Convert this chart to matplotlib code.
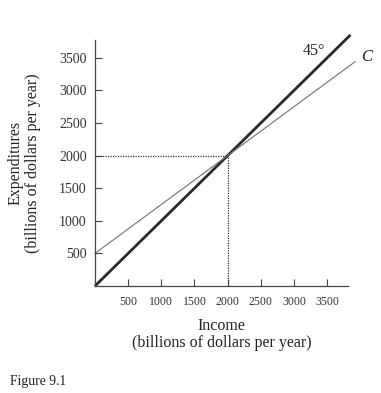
import matplotlib
matplotlib.use("Agg")
import matplotlib.pyplot as plt

# ---------------------------------------------------------------------------
# Data
# ---------------------------------------------------------------------------
x_ticks = [500, 1000, 1500, 2000, 2500, 3000, 3500]
y_ticks = [500, 1000, 1500, 2000, 2500, 3000, 3500]

diag_x = [0, 3850]          # 45-degree line, E = Y
diag_y = [0, 3850]
cons_x = [0, 3920]          # consumption function C = 500 + 0.75 Y
cons_y = [500, 3440]
eq_income = 2000
eq_spend = 2000

plt.rcParams["font.family"] = ["Liberation Serif", "DejaVu Serif"]

fig = plt.figure(figsize=(3.81, 3.93), dpi=100)
ax = fig.add_axes([0.249, 0.272, 0.664, 0.626])

ax.plot(diag_x, diag_y, color="#2a2a2a", linewidth=2.0, clip_on=False,
        solid_capstyle="butt")
ax.plot(cons_x, cons_y, color="#707070", linewidth=0.8, clip_on=False)

# equilibrium guides
ax.plot([0, eq_income], [eq_spend, eq_spend], color="#333333",
        linewidth=0.9, linestyle=(0, (1, 1)))
ax.plot([eq_income, eq_income], [0, eq_spend], color="#333333",
        linewidth=0.9, linestyle=(0, (1, 1)))

ax.set_xlim(0, 3810)
ax.set_ylim(0, 3770)
ax.set_xticks(x_ticks)
ax.set_yticks(y_ticks)
ax.tick_params(direction="in", length=5, width=0.8, colors="#444444",
               labelcolor="#333333")
ax.tick_params(axis="x", pad=7, labelsize=8.5)
ax.tick_params(axis="y", pad=6, labelsize=10)

for side in ("top", "right"):
    ax.spines[side].set_visible(False)
for side in ("left", "bottom"):
    ax.spines[side].set_color("#444444")
    ax.spines[side].set_linewidth(0.9)

ax.text(3300, 3600, "45°", fontsize=11.5, color="#222222", ha="center",
        va="center")
ax.text(4090, 3510, "C", fontsize=12, style="italic", color="#222222",
        ha="center", va="center", clip_on=False)

ax.set_xlabel("Income\n(billions of dollars per year)", fontsize=11.5,
              color="#222222", linespacing=1.15, labelpad=7)
ax.set_ylabel("Expenditures\n(billions of dollars per year)", fontsize=11.5,
              color="#222222", linespacing=1.1, labelpad=13)

fig.text(0.026, 0.02, "Figure 9.1", fontsize=9.8, color="#222222")

fig.savefig("out.png", dpi=100)
